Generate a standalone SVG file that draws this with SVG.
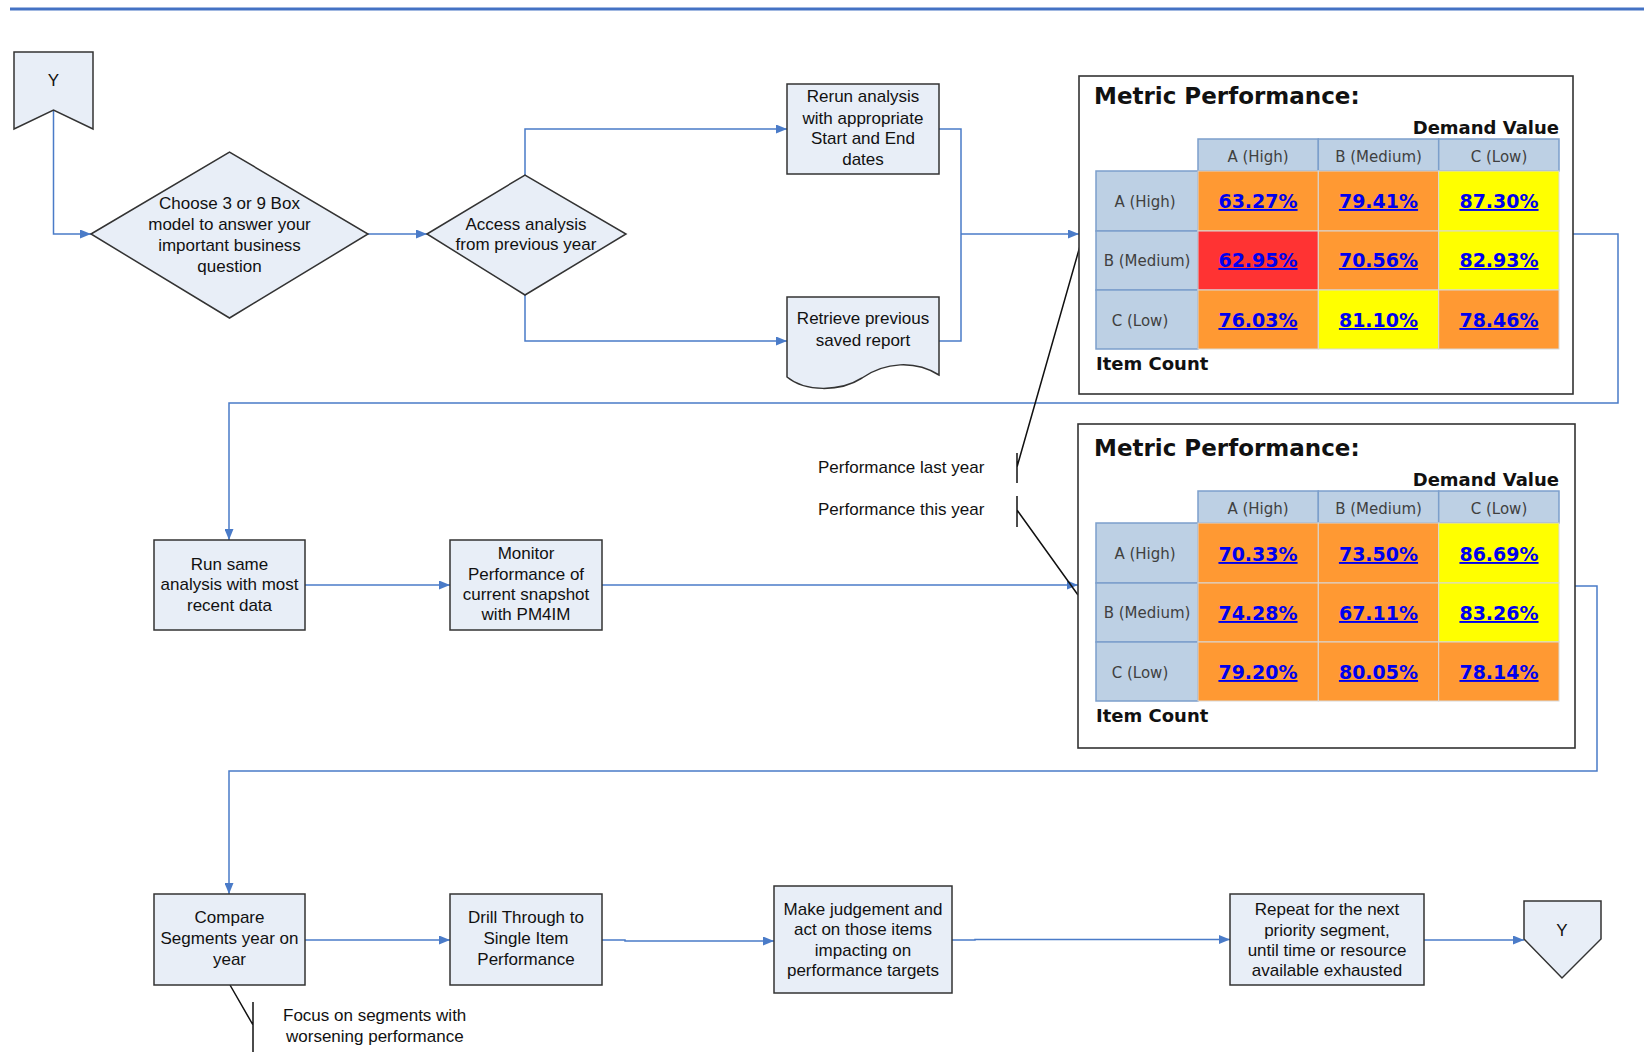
<svg xmlns="http://www.w3.org/2000/svg" width="1644" height="1061" viewBox="0 0 1644 1061">
  <defs>
    <marker id="arr" markerUnits="userSpaceOnUse" markerWidth="11" markerHeight="9" refX="11" refY="4.5" orient="auto">
      <path d="M0,0 L11,4.5 L0,9 Z" fill="#4A7BC8"/>
    </marker>
    <style>
      .box{fill:#E8EEF7;stroke:#333;stroke-width:1.5}
      .lbl{font-family:"Liberation Sans",Arial,sans-serif;font-size:17px;fill:#111;text-anchor:middle}
      .note{font-family:"Liberation Sans",Arial,sans-serif;font-size:17px;fill:#111}
      .conn{fill:none;stroke:#4A7BC8;stroke-width:1.5}
      .call{fill:none;stroke:#111;stroke-width:1.5}
      .panel{fill:#fff;stroke:#333;stroke-width:1.6}
      .title{font-family:"DejaVu Sans",Verdana,sans-serif;font-weight:bold;font-size:23px;fill:#111}
      .sub{font-family:"DejaVu Sans",Verdana,sans-serif;font-weight:bold;font-size:18px;fill:#111}
      .hd{fill:#BDD0E4;stroke:#7C9FCB;stroke-width:1.5}
      .hdt{font-family:"DejaVu Sans",Verdana,sans-serif;font-size:15px;fill:#404040;text-anchor:middle}
      .o{fill:#FF9933;stroke:#D8D8D8;stroke-width:1}
      .r{fill:#FF3333;stroke:#D8D8D8;stroke-width:1}
      .y{fill:#FFFF00;stroke:#D8D8D8;stroke-width:1}
      .val{font-family:"DejaVu Sans",Verdana,sans-serif;font-weight:bold;font-size:19px;fill:#0000EE;text-anchor:middle;text-decoration:underline}
    </style>
  </defs>

  <rect width="1644" height="1061" fill="#fff"/>
  <line x1="10" y1="9" x2="1644" y2="9" stroke="#4472C4" stroke-width="3"/>

  <!-- connectors -->
  <g id="connectors">
    <path class="conn" d="M53.5,110 V234 H91" marker-end="url(#arr)"/>
    <path class="conn" d="M368,234 H427" marker-end="url(#arr)"/>
    <path class="conn" d="M525,175 V129 H787" marker-end="url(#arr)"/>
    <path class="conn" d="M525,295 V341 H787" marker-end="url(#arr)"/>
    <path class="conn" d="M939,129 H961 V341 H939"/>
    <path class="conn" d="M961,234 H1079" marker-end="url(#arr)"/>
    <path class="conn" d="M1573,234 H1618 V403 H229 V540" marker-end="url(#arr)"/>
    <path class="conn" d="M305,585 H450" marker-end="url(#arr)"/>
    <path class="conn" d="M602,585 H1078" marker-end="url(#arr)"/>
    <path class="conn" d="M1575,586 H1597 V771 H229 V894" marker-end="url(#arr)"/>
    <path class="conn" d="M305,940 H450" marker-end="url(#arr)"/>
    <path class="conn" d="M602,940 H625 V941 H774" marker-end="url(#arr)"/>
    <path class="conn" d="M952,940 H975 V939.5 H1230" marker-end="url(#arr)"/>
    <path class="conn" d="M1424,940 H1524" marker-end="url(#arr)"/>
    <!-- annotation callouts -->
    <path class="call" d="M1017,453 V483 M1017,467 L1080,246"/>
    <path class="call" d="M1017,496 V527 M1017,510 L1078,595"/>
    <path class="call" d="M230,985 L253,1025 M253,1002 V1052"/>
  </g>

  <!-- off-page reference, top -->
  <g id="ref-start">
    <path class="box" d="M14,52 H93 V129 L53.5,110 L14,129 Z"/>
    <text class="lbl" x="53.5" y="86">Y</text>
  </g>

  <g id="choose-model">
    <path class="box" d="M91,234 L229.5,152 L368,234 L229.5,318 Z"/>
    <text class="lbl" x="229.5" y="209">Choose 3 or 9 Box</text>
    <text class="lbl" x="229.5" y="230">model to answer your</text>
    <text class="lbl" x="229.5" y="251">important business</text>
    <text class="lbl" x="229.5" y="272">question</text>
  </g>

  <g id="access-analysis">
    <path class="box" d="M427,234 L525,175 L626,234 L525,295 Z"/>
    <text class="lbl" x="526" y="230">Access analysis</text>
    <text class="lbl" x="526" y="250">from previous year</text>
  </g>

  <g id="rerun-analysis">
    <rect class="box" x="787" y="84" width="152" height="90"/>
    <text class="lbl" x="863" y="102">Rerun analysis</text>
    <text class="lbl" x="863" y="124">with appropriate</text>
    <text class="lbl" x="863" y="144">Start and End</text>
    <text class="lbl" x="863" y="165">dates</text>
  </g>

  <g id="retrieve-report">
    <path class="box" d="M787,297 H939 V375 C915,360 885,362 862,378 C840,392 805,392 787,377 Z"/>
    <text class="lbl" x="863" y="324">Retrieve previous</text>
    <text class="lbl" x="863" y="346">saved report</text>
  </g>

  <!-- metric panel: last year -->
  <g id="metric-last-year">
    <rect class="panel" x="1079" y="76" width="494" height="318"/>
    <text class="title" x="1094" y="104">Metric Performance:</text>
    <text class="sub" x="1559" y="134" text-anchor="end">Demand Value</text>
    <rect class="hd" x="1198" y="139" width="120.3" height="32"/>
    <rect class="hd" x="1318.3" y="139" width="120.4" height="32"/>
    <rect class="hd" x="1438.7" y="139" width="120.3" height="32"/>
    <text class="hdt" x="1258" y="162">A (High)</text>
    <text class="hdt" x="1378.5" y="162">B (Medium)</text>
    <text class="hdt" x="1499" y="162">C (Low)</text>
    <rect class="hd" x="1096" y="171" width="102" height="60"/>
    <rect class="hd" x="1096" y="231" width="102" height="59"/>
    <rect class="hd" x="1096" y="290" width="102" height="59"/>
    <text class="hdt" x="1145" y="207">A (High)</text>
    <text class="hdt" x="1147" y="266">B (Medium)</text>
    <text class="hdt" x="1140" y="326">C (Low)</text>
    <rect class="o" x="1198" y="171" width="120.3" height="60"/>
    <rect class="o" x="1318.3" y="171" width="120.4" height="60"/>
    <rect class="y" x="1438.7" y="171" width="120.3" height="60"/>
    <rect class="r" x="1198" y="231" width="120.3" height="59"/>
    <rect class="o" x="1318.3" y="231" width="120.4" height="59"/>
    <rect class="y" x="1438.7" y="231" width="120.3" height="59"/>
    <rect class="o" x="1198" y="290" width="120.3" height="59"/>
    <rect class="y" x="1318.3" y="290" width="120.4" height="59"/>
    <rect class="o" x="1438.7" y="290" width="120.3" height="59"/>
    <text class="val" x="1258" y="208">63.27%</text>
    <text class="val" x="1378.5" y="208">79.41%</text>
    <text class="val" x="1499" y="208">87.30%</text>
    <text class="val" x="1258" y="267">62.95%</text>
    <text class="val" x="1378.5" y="267">70.56%</text>
    <text class="val" x="1499" y="267">82.93%</text>
    <text class="val" x="1258" y="327">76.03%</text>
    <text class="val" x="1378.5" y="327">81.10%</text>
    <text class="val" x="1499" y="327">78.46%</text>
    <text class="sub" x="1096" y="370">Item Count</text>
  </g>

  <!-- metric panel: this year -->
  <g id="metric-this-year">
    <rect class="panel" x="1078" y="424" width="497" height="324"/>
    <text class="title" x="1094" y="456">Metric Performance:</text>
    <text class="sub" x="1559" y="486" text-anchor="end">Demand Value</text>
    <rect class="hd" x="1198" y="491" width="120.3" height="32"/>
    <rect class="hd" x="1318.3" y="491" width="120.4" height="32"/>
    <rect class="hd" x="1438.7" y="491" width="120.3" height="32"/>
    <text class="hdt" x="1258" y="514">A (High)</text>
    <text class="hdt" x="1378.5" y="514">B (Medium)</text>
    <text class="hdt" x="1499" y="514">C (Low)</text>
    <rect class="hd" x="1096" y="523" width="102" height="60"/>
    <rect class="hd" x="1096" y="583" width="102" height="59"/>
    <rect class="hd" x="1096" y="642" width="102" height="59"/>
    <text class="hdt" x="1145" y="559">A (High)</text>
    <text class="hdt" x="1147" y="618">B (Medium)</text>
    <text class="hdt" x="1140" y="678">C (Low)</text>
    <rect class="o" x="1198" y="523" width="120.3" height="60"/>
    <rect class="o" x="1318.3" y="523" width="120.4" height="60"/>
    <rect class="y" x="1438.7" y="523" width="120.3" height="60"/>
    <rect class="o" x="1198" y="583" width="120.3" height="59"/>
    <rect class="o" x="1318.3" y="583" width="120.4" height="59"/>
    <rect class="y" x="1438.7" y="583" width="120.3" height="59"/>
    <rect class="o" x="1198" y="642" width="120.3" height="59"/>
    <rect class="o" x="1318.3" y="642" width="120.4" height="59"/>
    <rect class="o" x="1438.7" y="642" width="120.3" height="59"/>
    <text class="val" x="1258" y="561">70.33%</text>
    <text class="val" x="1378.5" y="561">73.50%</text>
    <text class="val" x="1499" y="561">86.69%</text>
    <text class="val" x="1258" y="620">74.28%</text>
    <text class="val" x="1378.5" y="620">67.11%</text>
    <text class="val" x="1499" y="620">83.26%</text>
    <text class="val" x="1258" y="679">79.20%</text>
    <text class="val" x="1378.5" y="679">80.05%</text>
    <text class="val" x="1499" y="679">78.14%</text>
    <text class="sub" x="1096" y="722">Item Count</text>
  </g>

  <g id="note-years">
    <text class="note" x="818" y="473">Performance last year</text>
    <text class="note" x="818" y="515">Performance this year</text>
  </g>

  <g id="run-analysis">
    <rect class="box" x="154" y="540" width="151" height="90"/>
    <text class="lbl" x="229.5" y="570">Run same</text>
    <text class="lbl" x="229.5" y="590">analysis with most</text>
    <text class="lbl" x="229.5" y="611">recent data</text>
  </g>

  <g id="monitor-performance">
    <rect class="box" x="450" y="540" width="152" height="90"/>
    <text class="lbl" x="526" y="559">Monitor</text>
    <text class="lbl" x="526" y="580">Performance of</text>
    <text class="lbl" x="526" y="600">current snapshot</text>
    <text class="lbl" x="526" y="620">with PM4IM</text>
  </g>

  <g id="compare-segments">
    <rect class="box" x="154" y="894" width="151" height="91"/>
    <text class="lbl" x="229.5" y="923">Compare</text>
    <text class="lbl" x="229.5" y="944">Segments year on</text>
    <text class="lbl" x="229.5" y="965">year</text>
  </g>

  <g id="note-focus">
    <text class="note" x="283" y="1021">Focus on segments with</text>
    <text class="note" x="286" y="1042">worsening performance</text>
  </g>

  <g id="drill-through">
    <rect class="box" x="450" y="894" width="152" height="91"/>
    <text class="lbl" x="526" y="923">Drill Through to</text>
    <text class="lbl" x="526" y="944">Single Item</text>
    <text class="lbl" x="526" y="965">Performance</text>
  </g>

  <g id="make-judgement">
    <rect class="box" x="774" y="886" width="178" height="107"/>
    <text class="lbl" x="863" y="915">Make judgement and</text>
    <text class="lbl" x="863" y="935">act on those items</text>
    <text class="lbl" x="863" y="956">impacting on</text>
    <text class="lbl" x="863" y="976">performance targets</text>
  </g>

  <g id="repeat-segment">
    <rect class="box" x="1230" y="894" width="194" height="91"/>
    <text class="lbl" x="1327" y="915">Repeat for the next</text>
    <text class="lbl" x="1327" y="936">priority segment,</text>
    <text class="lbl" x="1327" y="956">until time or resource</text>
    <text class="lbl" x="1327" y="976">available exhausted</text>
  </g>

  <!-- off-page reference, end -->
  <g id="ref-end">
    <path class="box" d="M1524,901 H1601 V939 L1562,978 L1524,939 Z"/>
    <text class="lbl" x="1562" y="936">Y</text>
  </g>
</svg>
